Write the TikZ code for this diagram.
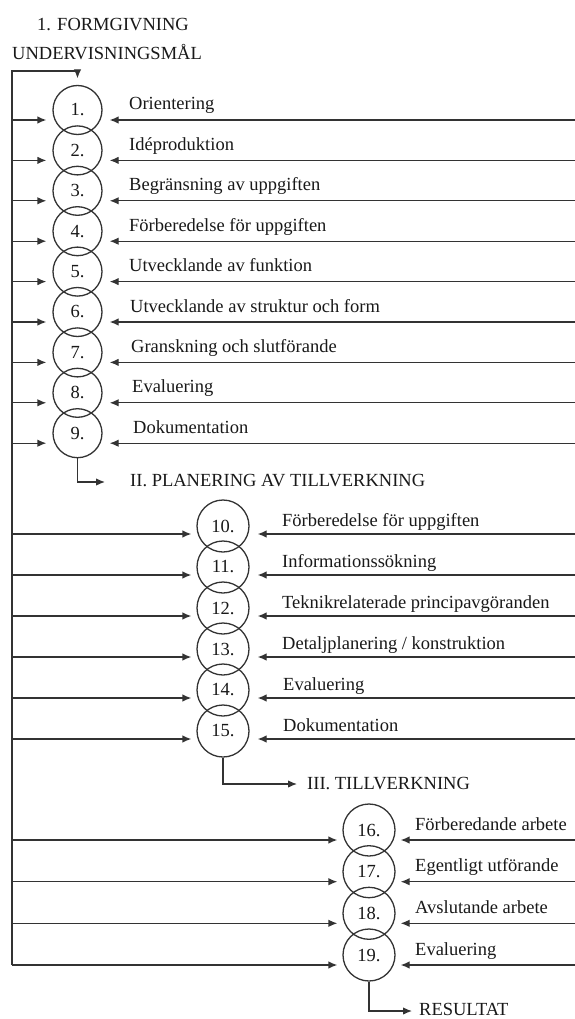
\documentclass[tikz,border=0pt]{standalone}
\usepackage{fontspec}
\setmainfont{Liberation Serif}
\usetikzlibrary{arrows.meta,calc}
\begin{document}
\begin{tikzpicture}[x=1pt,y=-1pt,
  ln/.style={line width=1.3pt, draw=black!80, line join=miter},
  arr/.style={ln, -{Latex[length=9pt,width=7.5pt]}},
  circ/.style={circle, ln, inner sep=0pt, text=black!90, font=\fontsize{18.5}{20}\selectfont},
  cA/.style={circ, minimum size=49pt},
  cB/.style={circ, minimum size=52pt},
  lbl/.style={anchor=base west, inner sep=0pt, text=black!90, font=\fontsize{18.5}{20}\selectfont},
]
\useasboundingbox[fill=white] (0,0) rectangle (575,1019);

% headings
\node[lbl] (h1a) at (37,31) {1. FORMGIVNING};
\node[lbl] (h1b) at (12,60) {UNDERVISNINGSMÅL};

% column 1 circles
\foreach \i/\y in {1/110,2/150.4,3/190.8,4/231.2,5/271.6,6/312,7/352.4,8/392.8,9/433.2}{
  \node[cA] (c\i) at (77.5,\y) {\i.};
  \coordinate (a\i) at ($(c\i.west)+(-6,10)$);
  \coordinate (b\i) at ($(c\i.east)+(7,10)$);
}
% column 2 circles
\foreach \i/\y in {10/526,11/567,12/608,13/649,14/690,15/731}{
  \node[cB] (c\i) at (223,\y) {\i.};
  \coordinate (a\i) at ($(c\i.west)+(-5,8)$);
  \coordinate (b\i) at ($(c\i.east)+(8,8)$);
}
% column 3 circles
\foreach \i/\y in {16/830,17/871.7,18/913.3,19/955}{
  \node[cB] (c\i) at (369,\y) {\i.};
  \coordinate (a\i) at ($(c\i.west)+(-5,10)$);
  \coordinate (b\i) at ($(c\i.east)+(5,10)$);
}

\coordinate (L) at (12,71);
\coordinate (R) at (575,0);

% feedback line
\draw[arr] (L |- a19) -- (L) -- (c1.north |- L) -- ($(c1.north)+(0,-6.5)$);

% arrows
\foreach \i in {1,...,19}{
  \draw[arr] (L |- a\i) -- (a\i);
  \draw[arr] (R |- b\i) -- (b\i);
}

% labels column 1
\node[lbl] (l1) at ($(c1.center)+(51.5,0)$) {Orientering};
\node[lbl] (l2) at ($(c2.center)+(51.5,0)$) {Idéproduktion};
\node[lbl] (l3) at ($(c3.center)+(51.5,0)$) {Begränsning av uppgiften};
\node[lbl] (l4) at ($(c4.center)+(51.5,0)$) {Förberedelse för uppgiften};
\node[lbl] (l5) at ($(c5.center)+(51.5,0)$) {Utvecklande av funktion};
\node[lbl] (l6) at ($(c6.center)+(52.5,0)$) {Utvecklande av struktur och form};
\node[lbl] (l7) at ($(c7.center)+(53.5,0)$) {Granskning och slutförande};
\node[lbl] (l8) at ($(c8.center)+(54.5,0)$) {Evaluering};
\node[lbl] (l9) at ($(c9.center)+(55.5,0)$) {Dokumentation};

% labels column 2
\node[lbl] (l10) at ($(c10.center)+(59,0)$) {Förberedelse för uppgiften};
\node[lbl] (l11) at ($(c11.center)+(59,0)$) {Informationssökning};
\node[lbl] (l12) at ($(c12.center)+(59,0)$) {Teknikrelaterade principavgöranden};
\node[lbl] (l13) at ($(c13.center)+(59,0)$) {Detaljplanering / konstruktion};
\node[lbl] (l14) at ($(c14.center)+(60,0)$) {Evaluering};
\node[lbl] (l15) at ($(c15.center)+(60,0)$) {Dokumentation};

% labels column 3
\node[lbl] (l16) at ($(c16.center)+(46,0)$) {Förberedande arbete};
\node[lbl] (l17) at ($(c17.center)+(46,0)$) {Egentligt utförande};
\node[lbl] (l18) at ($(c18.center)+(46,0)$) {Avslutande arbete};
\node[lbl] (l19) at ($(c19.center)+(46,0)$) {Evaluering};

% phase headings and exits
\node[lbl] (h2) at (130,486) {II. PLANERING AV TILLVERKNING};
\node[lbl] (h3) at (307,789) {III. TILLVERKNING};
\node[lbl] (h4) at (419,1015) {RESULTAT};
\coordinate (t2) at (105,482);
\coordinate (t3) at (297,784);
\coordinate (t4) at (412,1011);
\draw[arr] (c9.south) |- (t2);
\draw[arr] (c15.south) |- (t3);
\draw[arr] (c19.south) |- (t4);
\end{tikzpicture}
\end{document}
